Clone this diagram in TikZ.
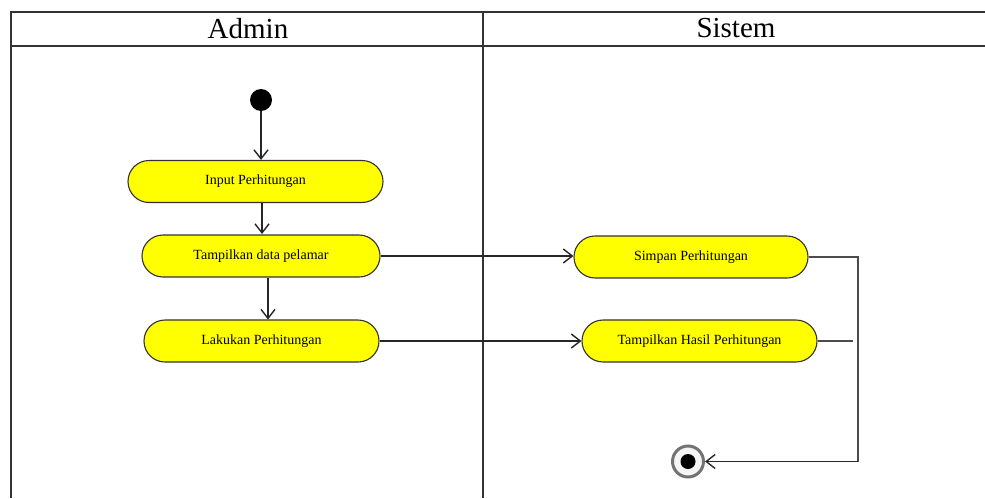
\documentclass[tikz,border=0pt]{standalone}
\usepackage{fontspec}
\setmainfont{Liberation Serif}
\usetikzlibrary{arrows.meta}
\definecolor{actfill}{RGB}{255,255,0}
\definecolor{lineclr}{RGB}{50,50,50}
\tikzset{
  lane/.style={draw=black!80, line width=1.5pt},
  activity/.style={draw=lineclr, line width=1.1pt, fill=actfill, rectangle,
    rounded corners=21pt, minimum height=42pt, inner sep=0pt,
    font=\fontsize{14}{16}\selectfont},
  flow/.style={draw=black!85, line width=1.4pt, -{Straight Barb[length=9pt,width=14pt,line width=1.4pt]}},
  plain/.style={draw=black!70, line width=1.4pt},
  lanetitle/.style={font=\fontsize{29}{32}\selectfont, inner sep=0pt},
}
\begin{document}
\begin{tikzpicture}[x=1pt,y=-1pt]
\useasboundingbox (0,0) rectangle (985,498);
\fill[white] (0,0) rectangle (985,498);

% swimlane frame
\draw[lane] (985,12) -- (11,12) -- (11,498);
\draw[lane] (11,46) -- (985,46);
\draw[lane] (483,12) -- (483,498);
\node[lanetitle] (admin) at (248,28.5) {Admin};
\node[lanetitle] (sistem) at (736,28.5) {Sistem};

% start node
\node[circle, fill=black, minimum size=22pt, inner sep=0pt] (start) at (261,100) {};

% activities
\node[activity, minimum width=255pt] (input) at (255.5,181.5) {Input Perhitungan};
\node[activity, minimum width=238pt] (tampil) at (261,256) {Tampilkan data pelamar};
\node[activity, minimum width=235pt] (lakukan) at (261.5,341) {Lakukan Perhitungan};
\node[activity, minimum width=234pt] (simpan) at (691,257) {Simpan Perhitungan};
\node[activity, minimum width=235pt] (hasil) at (699.5,341) {Tampilkan Hasil Perhitungan};

% end node
\node[circle, draw=black!55, line width=3pt, fill=black!4, minimum size=31pt, inner sep=0pt] (end) at (688,461.5) {};
\fill[black] (end.center) circle (7.5pt);

% control flows
\draw[flow] (start.south) -- (start.south |- input.north);
\draw[flow] (262,203) -- (262,234);
\draw[flow] (268,277.5) -- (268,319.5);
\draw[flow] (tampil.east) -- (tampil.east -| simpan.west);
\draw[flow] (lakukan.east) -- (lakukan.east -| hasil.west);

\coordinate (jtop) at (858,257);
\coordinate (jmid) at (853,341);
\coordinate (jbot) at (858,461.5);
\draw[plain] (simpan.east) -- (jtop) -- (jbot);
\draw[plain] (hasil.east) -- (jmid);
\draw[flow] (jbot) -- (end.east);
\end{tikzpicture}
\end{document}
